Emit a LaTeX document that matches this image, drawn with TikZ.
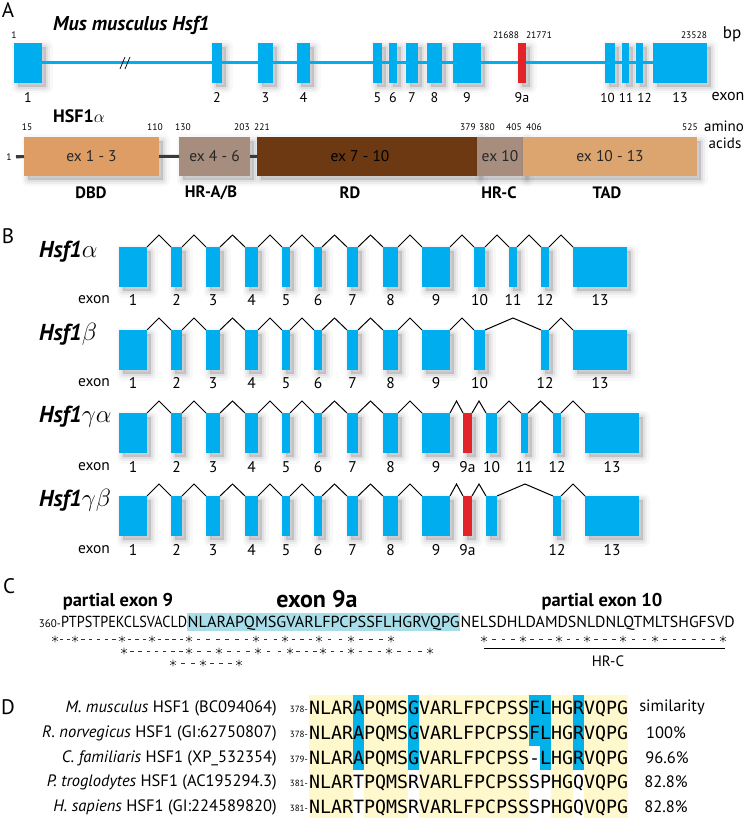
\documentclass[tikz,border=0pt]{standalone}
\usepackage{fontspec}
\setmainfont{PT Sans}
\newfontfamily\monof{DejaVu Sans Mono}
\usetikzlibrary{calc}
\definecolor{exc}{HTML}{00AEEF}
\definecolor{exred}{HTML}{E2232A}
\definecolor{dbdc}{HTML}{DE9D64}
\definecolor{hrc}{HTML}{A68D7E}
\definecolor{rdc}{HTML}{6C3912}
\definecolor{tadc}{HTML}{DCA46F}
\definecolor{seqhl}{HTML}{A8DDEA}
\definecolor{ylw}{HTML}{FFF8CC}
\definecolor{cyd}{HTML}{00B1EA}
\definecolor{pline}{HTML}{3A3A3A}
\definecolor{shc}{HTML}{30303A}
\newcommand\fs[1]{\fontsize{#1}{#1}\selectfont}
\newcommand\exb[5]{\node[#5, minimum width=#3pt-#2pt, anchor=north west] (#1) at (#2,#4) {};}
\newcommand\ihat[2]{\draw[intron] (#1.north east) -- ($(#1.north east)!0.5!(#2.north west)+(0,-12)$) -- (#2.north west);}
\newcommand\astk[2]{\draw[astk] (#1,#2) +(90:3.4) -- +(270:3.4) (#1,#2) +(30:3.4) -- +(210:3.4) (#1,#2) +(150:3.4) -- +(330:3.4);}
\newcommand\srow[3]{%
  \foreach \a/\b in {#2} {%
    \astk{\a}{#1}
    \pgfmathsetmacro\pp{((\a+\b)/2<187) ? 7.8 : 9.4}
    \pgfmathtruncatemacro\nd{round((\b-\a)/\pp)-1}
    \ifnum\nd>0
      \foreach \k in {1,...,\nd} {\draw[dsh] ({\a+(\b-\a)*\k/(\nd+1)-1.8},#1) -- ++(3.6,0);}
    \fi
  }
  \astk{#3}{#1}
}
\begin{document}
\begin{tikzpicture}[x=1pt,y=-1pt,
  shad/.style={
    preaction={draw=shc, draw opacity=0.035, line width=13pt, line join=round, transform canvas={xshift=4pt, yshift=-4pt}},
    preaction={draw=shc, draw opacity=0.05, line width=8pt, line join=round, transform canvas={xshift=4pt, yshift=-4pt}},
    preaction={draw=shc, draw opacity=0.07, line width=3.5pt, line join=round, transform canvas={xshift=4pt, yshift=-4pt}},
    preaction={fill=shc, fill opacity=0.17, transform canvas={xshift=4pt, yshift=-4pt}}},
  exon/.style={fill=exc, inner sep=0pt, outer sep=0pt, minimum height=40pt, shad},
  exonr/.style={exon, fill=exred},
  intron/.style={draw=black, line width=1pt, line join=miter},
  gline/.style={draw=exc, line width=3pt},
  num/.style={font=\fs{15.5}, inner sep=0pt},
  numa/.style={font=\fs{14}, inner sep=0pt},
  tiny/.style={font=\fs{9.5}, inner sep=0pt},
  panel/.style={font=\fs{21}, inner sep=0pt},
  dom/.style={draw=none, inner sep=0pt, outer sep=0pt, minimum height=39pt, anchor=north west, font=\fs{15.5}, text=black!85, shad},
  domlab/.style={font=\bfseries\fs{16.5}, inner sep=0pt},
  rowlab/.style={font=\fs{23}, inner sep=0pt, anchor=west},
  seqc/.style={font=\fs{16}, inner sep=0pt, anchor=base west},
  seqd/.style={font=\monof\fs{18.27}, inner sep=0pt, anchor=base west},
  head/.style={font=\bfseries\fs{18.5}, inner sep=0pt},
  spec/.style={font=\fs{16.5}, inner sep=0pt, anchor=east},
  small/.style={font=\fs{9}, inner sep=0pt, anchor=east},
  astk/.style={line width=0.55pt, black!80},
  dsh/.style={line width=0.6pt, black!80}]
\useasboundingbox (0,0) rectangle (745,818);

% ================= Panel A =================
\node[panel] (pA) at (8,10) {A};
\node[font=\bfseries\itshape\fs{20}, inner sep=0pt, anchor=west] (tA) at (53,25) {Mus musculus Hsf1};
\coordinate (gs) at (40,63);
\coordinate (ge) at (655,63);
\draw[gline] (gs) -- (ge);
\foreach \n/\a/\b in {1/14/42, 2/212/222, 3/258/273, 4/297/310, 5/373/382, 6/389/397, 7/406/418, 8/427/442, 9/453/481, 10/605/615, 11/622/629, 12/636/643, 13/653/707}
  {\exb{g\n}{\a}{\b}{43}{exon}}
\exb{g9a}{518}{526}{43}{exonr}
\draw[gline] (g1.east) -- (g2.west) (g2.east) -- (g3.west) (g3.east) -- (g4.west) (g4.east) -- (g5.west)
  (g5.east) -- (g6.west) (g6.east) -- (g7.west) (g7.east) -- (g8.west) (g8.east) -- (g9.west) (g9.east) -- (g9a.west)
  (g9a.east) -- (g10.west) (g10.east) -- (g11.west) (g11.east) -- (g12.west) (g12.east) -- (g13.west);
\draw[black, line width=0.7pt] (120,69) -- (125,57) (125,69) -- (130,57);
\foreach \n/\x in {1/28, 2/217, 3/265.5, 4/303.5, 5/377.5, 6/393, 7/412, 8/434.5, 9/467, 9a/522, 13/680}
  {\node[numa] at (\x,98) {\n};}
\foreach \n/\x in {10/607.5, 11/626, 12/644.5}
  {\node[font=\fs{13}, inner sep=0pt] at (\x,98) {\n};}
\node[font=\fs{16}, inner sep=0pt] (exA) at (728,97) {exon};
\node[tiny] (n1) at (14,35) {1};
\node[tiny] (n2) at (506,35) {21688};
\node[tiny] (n3) at (539,35) {21771};
\node[tiny] (n4) at (694,35) {23528};
\node[font=\fs{17}, inner sep=0pt] (bp) at (732,34) {bp};

% protein
\node[font=\bfseries\fs{18}, inner sep=0pt, anchor=west] (hsf) at (53,116) {HSF1$\alpha$};
\coordinate (ps) at (16,157);
\coordinate (pe) at (690,157);
\draw[pline, line width=3pt] (ps) -- (pe);
\node[tiny] (p1) at (9,157) {1};
\node[dom, fill=dbdc, minimum width=135pt] (dbd) at (24,137) {ex 1 - 3};
\node[dom, fill=hrc, minimum width=71pt] (hrab) at (179,137) {ex 4 - 6};
\node[dom, fill=rdc, minimum width=220pt, text=black] (rd) at (257,137) {\hspace*{-14pt}ex 7 - 10};
\node[dom, fill=hrc, minimum width=46pt] (hrcb) at (477,137) {ex 10};
\node[dom, fill=tadc, minimum width=174pt] (tad) at (523,137) {ex 10 - 13};
\draw[pline, line width=3pt] (ps) -- (dbd.west) (dbd.east) -- (hrab.west) (hrab.east) -- (rd.west);
\foreach \t/\x in {15/27, 110/155, 130/183, 203/242, 221/262, 379/468, 380/487, 405/514, 406/534, 525/690}
  {\node[tiny] at (\x,127) {\t};}
\node[font=\fs{15}, inner sep=0pt] (am) at (724,126) {amino};
\node[font=\fs{15}, inner sep=0pt] (ac) at (725,143) {acids};
\node[domlab] at (91,193) {DBD};
\node[domlab] at (211,193) {HR-A/B};
\node[domlab] at (350,193) {RD};
\node[domlab] at (499,193) {HR-C};
\node[domlab] at (607,193) {TAD};

% ================= Panel B =================
\node[panel] (pB) at (8,236) {B};
% row alpha
\foreach \n/\a/\b in {1/119/147, 2/171/182, 3/206/220, 4/245/258, 5/282/290, 6/314/322, 7/347/358, 8/383/398, 9/422/450, 10/474/485, 11/509/517, 12/541/549, 13/573/627}
  {\exb{a\n}{\a}{\b}{247}{exon}}
\foreach \p/\q in {1/2,2/3,3/4,4/5,5/6,6/7,7/8,8/9,9/10,10/11,11/12,12/13} {\ihat{a\p}{a\q}}
\node[rowlab] (la) at (39,252) {\textbf{\textit{Hsf1}}$\alpha$};
\node[num] at (94,300) {exon};
\foreach \n/\x in {1/133, 2/176.5, 3/213, 4/251.5, 5/286, 6/318, 7/352.5, 8/390.5, 9/436, 10/479.5, 11/513, 12/545, 13/600}
  {\node[num] at (\x,300) {\n};}
% row beta
\foreach \n/\a/\b in {1/119/147, 2/171/182, 3/206/220, 4/245/258, 5/282/290, 6/314/322, 7/347/358, 8/383/398, 9/422/450, 10/474/485, 12/541/549, 13/573/627}
  {\exb{b\n}{\a}{\b}{330}{exon}}
\foreach \p/\q in {1/2,2/3,3/4,4/5,5/6,6/7,7/8,8/9,9/10,10/12,12/13} {\ihat{b\p}{b\q}}
\node[rowlab] (lb) at (39,334) {\textbf{\textit{Hsf1}}$\beta$};
\node[num] at (94,383) {exon};
\foreach \n/\x in {1/133, 2/176.5, 3/213, 4/251.5, 5/286, 6/318, 7/352.5, 8/390.5, 9/436, 10/479.5, 12/545, 13/600}
  {\node[num] at (\x,383) {\n};}
% row gamma alpha
\foreach \n/\a/\b in {1/119/147, 2/171/182, 3/206/220, 4/245/258, 5/282/290, 6/314/322, 7/347/358, 8/383/398, 9/422/450, 10/486/497, 11/521/528, 12/553/561, 13/585/639}
  {\exb{c\n}{\a}{\b}{413}{exon}}
\exb{c9a}{463}{472}{413}{exonr}
\foreach \p/\q in {1/2,2/3,3/4,4/5,5/6,6/7,7/8,8/9,9/9a,9a/10,10/11,11/12,12/13} {\ihat{c\p}{c\q}}
\node[rowlab] (lc) at (39,417) {\textbf{\textit{Hsf1}}$\gamma\alpha$};
\node[num] at (94,467) {exon};
\foreach \n/\x in {1/133, 2/176.5, 3/213, 4/251.5, 5/286, 6/318, 7/352.5, 8/390.5, 9/436, 9a/467.5, 10/491.5, 11/524.5, 12/557, 13/612}
  {\node[num] at (\x,467) {\n};}
% row gamma beta
\foreach \n/\a/\b in {1/119/147, 2/171/182, 3/206/220, 4/245/258, 5/282/290, 6/314/322, 7/347/358, 8/383/398, 9/422/450, 10/486/497, 12/553/561, 13/585/639}
  {\exb{d\n}{\a}{\b}{496}{exon}}
\exb{d9a}{463}{472}{496}{exonr}
\foreach \p/\q in {1/2,2/3,3/4,4/5,5/6,6/7,7/8,8/9,9/9a,9a/10,10/12,12/13} {\ihat{d\p}{d\q}}
\node[rowlab] (ld) at (39,500) {\textbf{\textit{Hsf1}}$\gamma\beta$};
\node[num] at (94,550) {exon};
\foreach \n/\x in {1/133, 2/176.5, 3/213, 4/251.5, 5/286, 6/318, 7/352.5, 8/390.5, 9/436, 9a/467.5, 12/557, 13/612}
  {\node[num] at (\x,550) {\n};}

% ================= Panel C =================
\node[panel] (pC) at (9,586) {C};
\node[head] (h9) at (118,602) {partial exon 9};
\node[font=\bfseries\fs{24}, inner sep=0pt] (h9a) at (317,599) {exon 9a};
\node[head] (h10) at (602,602) {partial exon 10};
\fill[seqhl] (187,613) rectangle (460,631);
\node[font=\fs{11}, inner sep=0pt, anchor=base east] (n360) at (61,627.5) {360-};
\node[seqc] (sqa) at (61,627.5) {\resizebox{126pt}{\height}{PTPSTPEKCLSVACLD}};
\node[seqc] (sqb) at (187.5,627.5) {\resizebox{272pt}{\height}{NLARAPQMSGVARLFPCPSSFLHGRVQPG}};
\node[seqc] (sqc) at (460.5,627.5) {\resizebox{274pt}{\height}{NELSDHLDAMDSNLDNLQTMLTSHGFSVD}};
\srow{639}{55/75,75/122,122/152,152/189,189/256,256/285,285/319,319/351,351/391}{391}
\srow{651}{124/189,189/219,219/258,258/290,290/323,323/351,351/389,389/430}{430}
\srow{663}{173/203,203/239}{239}
\srow{639}{484/523,523/559,559/587,587/623,623/655,655/723}{723}
\coordinate (hl) at (484,648);
\coordinate (hr) at (725,648);
\draw[black, line width=0.8pt] (hl) -- (hr);
\node[font=\fs{15}, inner sep=0pt] (hrcl) at (608,661) {HR-C};

% ================= Panel D =================
\node[panel] (pD) at (8,707) {D};
\fill[ylw] (309,695) rectangle (628,818);
\foreach \c in {4,9,21,24} {\fill[cyd] ({309+11*\c},695) rectangle ({309+11*(\c+1)},770);}
\fill[cyd] ({309+11*20},695) rectangle ({309+11*21},745.5);
\foreach \c in {4,9,20,21,24} {\fill[white] ({309+11*\c},770) rectangle ({309+11*(\c+1)},818);}
\fill[white] ({309+11*20},745.5) rectangle ({309+11*21},770);
\foreach \i/\yc/\sp/\rest/\st/\sq in {
  0/708/M. musculus/HSF1 (BC094064)/378-/NLARAPQMSGVARLFPCPSSFLHGRVQPG,
  1/733/R. norvegicus/HSF1 (GI:62750807)/378-/NLARAPQMSGVARLFPCPSSFLHGRVQPG,
  2/758/C. familiaris/HSF1 (XP\_532354)/379-/NLARAPQMSGVARLFPCPSS-LHGRVQPG,
  3/782/P. troglodytes/HSF1 (AC195294.3)/381-/NLARTPQMSRVARLFPCPSSSPHGQVQPG,
  4/807/H. sapiens/HSF1 (GI:224589820)/381-/NLARTPQMSRVARLFPCPSSSPHGQVQPG}
{
  \node[spec] (sp\i) at (277,\yc) {\textit{\sp} \rest};
  \node[small] (st\i) at (308,\yc+1) {\st};
  \node[seqd] (sd\i) at (309,\yc+6.6) {\sq};
}
\node[font=\fs{16.5}, inner sep=0pt] (simh) at (672,707) {similarity};
\node[font=\fs{16.5}, inner sep=0pt] (sim1) at (666,733) {100\%};
\node[font=\fs{16.5}, inner sep=0pt] (sim2) at (667,758) {96.6\%};
\node[font=\fs{16.5}, inner sep=0pt] (sim3) at (666,782) {82.8\%};
\node[font=\fs{16.5}, inner sep=0pt] (sim4) at (666,807) {82.8\%};
\end{tikzpicture}
\end{document}
